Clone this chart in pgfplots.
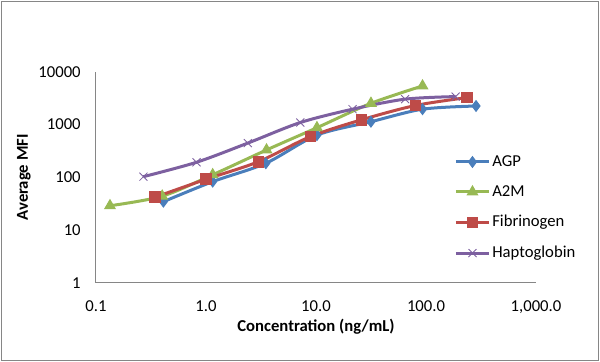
\documentclass[border=0pt]{standalone}
\usepackage{fontspec}
\setmainfont{Carlito}
\usepackage{pgfplots}
\pgfplotsset{compat=1.18}
\definecolor{agp}{HTML}{4A7EBB}
\definecolor{atwom}{HTML}{98B954}
\definecolor{fib}{HTML}{BE4B48}
\definecolor{hapt}{HTML}{7D60A0}
\definecolor{axgray}{HTML}{868686}
\begin{document}
\begin{tikzpicture}
\path[use as bounding box] (-57.6pt,-47.4pt) rectangle (302.4pt,169.8pt);
\draw[color=axgray, line width=0.6pt] (-56.8pt,-46.6pt) rectangle (301.6pt,169.0pt);
\begin{axis}[
  at={(0,0)}, anchor=south west,
  scale only axis, width=264pt, height=126.8pt,
  xmode=log, ymode=log,
  xmin=0.1, xmax=1000, ymin=1, ymax=10000,
  axis x line*=bottom, axis y line*=left,
  axis line style={-, draw=axgray, line width=0.6pt},
  major tick length=0pt, minor tick length=0pt,
  minor xtick={}, minor ytick={},
  xtick={0.1,1,10,100,1000},
  xticklabels={0.1,1.0,10.0,100.0,{1,000.0}},
  ytick={1,10,100,1000,10000},
  yticklabels={1,10,100,1000,10000},
  xticklabel style={anchor=north, inner sep=0pt, yshift=-10.2pt, font=\fontsize{10}{12}\selectfont},
  yticklabel style={anchor=east, inner sep=0pt, xshift=-9pt, font=\fontsize{10}{12}\selectfont},
  xlabel={\bfseries Concentration (ng/mL)},
  ylabel={\bfseries Average MFI},
  xlabel style={at={(rel axis cs:0.5,0)}, anchor=center, yshift=-26.4pt, font=\fontsize{10}{12}\selectfont},
  ylabel style={at={(rel axis cs:0,0.5)}, anchor=center, rotate=0, yshift=43.2pt, font=\fontsize{10}{12}\selectfont},
  clip=false,
  legend style={at={(rel axis cs:0.8136,0.6136)}, anchor=north west, draw=none, fill=none, inner sep=0pt, row sep=8pt, font=\fontsize{10}{12}\selectfont, nodes={inner sep=1pt}},
  legend cell align=left,
  legend image code/.code={\draw[mark repeat=2,mark phase=2] plot coordinates {(0pt,0pt) (10pt,0pt) (20pt,0pt)};},
]
\addplot[color=agp, line width=1.8pt, smooth, mark=diamond*, mark size=3.2pt, mark options={solid, fill=agp, line width=0.6pt}]
 coordinates {(0.41,34.6) (1.15,83) (3.5,185) (10.2,630) (31.6,1130) (93,1950) (285,2240)};
\addlegendentry{AGP}
\addplot[color=atwom, line width=1.8pt, smooth, mark=triangle*, mark size=3.6pt, mark options={solid, fill=atwom, line width=0.6pt}]
 coordinates {(0.134,29) (0.40,44) (1.15,112) (3.55,330) (10.2,870) (31.6,2520) (93,5370)};
\addlegendentry{A2M}
\addplot[color=fib, line width=1.8pt, smooth, mark=square*, mark size=3.2pt, mark options={solid, fill=fib, line width=0.6pt}]
 coordinates {(0.343,42) (1.0,92) (3.0,198) (8.9,590) (26,1230) (80,2290) (235,3230)};
\addlegendentry{Fibrinogen}
\addplot[color=hapt, line width=1.8pt, smooth, mark=x, mark size=3.4pt, mark options={solid, line width=0.5pt}]
 coordinates {(0.27,103) (0.82,193) (2.4,445) (7.2,1090) (21.5,1950) (64.6,3020) (186,3380)};
\addlegendentry{Haptoglobin}
\end{axis}
\end{tikzpicture}
\end{document}
